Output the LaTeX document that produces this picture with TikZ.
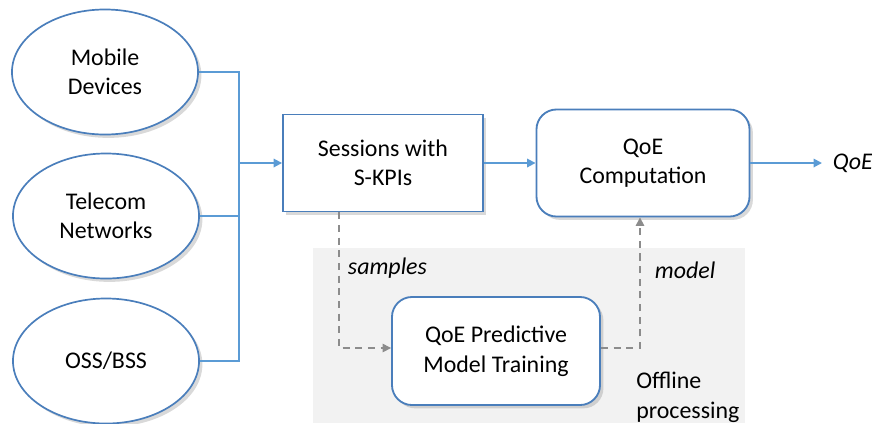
\documentclass[tikz,border=0pt]{standalone}
\usepackage{fontspec}
\setmainfont{Carlito}
\usetikzlibrary{shapes.geometric,arrows.meta,shadows}

\definecolor{edgeblue}{HTML}{4A7EBB}
\definecolor{linkblue}{HTML}{5B9BD5}
\definecolor{dashgray}{HTML}{8C8C8C}
\definecolor{panelgray}{HTML}{F2F2F2}

\tikzset{
  source/.style={ellipse, draw=edgeblue, line width=1.2pt, fill=white, minimum width=4.65cm, minimum height=3.125cm, align=center, drop shadow={opacity=0.3}},
  process/.style={rectangle, draw=edgeblue, line width=1.3pt, fill=white, align=center, drop shadow={opacity=0.3}},
  rounded/.style={process, rounded corners=0.5cm},
  flow/.style={linkblue, line width=1.3pt, -{Triangle[length=6pt,width=6pt]}},
  feed/.style={linkblue, line width=0.9pt},
  offline/.style={dashgray, line width=1pt, dashed, dash pattern=on 5pt off 4pt, -{Triangle[length=6pt,width=6pt]}}
}

\begin{document}
\begin{tikzpicture}[x=0.025cm, y=-0.025cm, font=\fontsize{17}{21}\selectfont]
\useasboundingbox (0, 0) rectangle (872, 423);

% offline area
\fill [panelgray] (313, 248) rectangle (745, 423);

% data sources
\node[source] (mobile) at (105, 72) {Mobile\\Devices};
\node[source] (telecom) at (106, 216) {Telecom\\Networks};
\node[source] (oss) at (106, 361) {OSS/BSS};

% main chain
\node[process, minimum width=5cm, minimum height=2.425cm] (sessions) at (383, 163) {Sessions with\\S-KPIs};
\node[rounded, minimum width=5.325cm, minimum height=2.675cm] (qoe) at (643, 163) {QoE\\Computation};
\node[rounded, minimum width=5.2cm, minimum height=2.7cm] (training) at (496, 351) {QoE Predictive\\Model Training};

\coordinate (bus) at (239, 163);
\coordinate (out) at (822, 163);

\draw [feed] (mobile.east) -| (bus) |- (oss.east);
\draw [feed] (telecom.east) -- (telecom.east -| bus);
\draw [flow] (bus) -- (sessions.west);
\draw [flow] (sessions) -- (qoe);
\draw [flow] (qoe) -- (out);
\node[anchor=west, font=\fontsize{17}{21}\selectfont\itshape] (qoelabel) at (828, 163) {QoE};

% offline training loop
\coordinate (down) at (339, 348);
\coordinate (up) at (640, 348);
\draw [offline] (sessions.south -| down) -- (down) -- (training.west |- down);
\draw [offline] (training.east |- up) -- (up) -- (qoe.south -| up);

\node[anchor=west, font=\fontsize{17}{21}\selectfont\itshape] (samples) at (343, 268) {samples};
\node[anchor=west, font=\fontsize{17}{21}\selectfont\itshape] (model) at (650, 270) {model};
\node[anchor=north west, align=left, inner sep=0pt] (label) at (636, 372) {Offline\\processing};
\end{tikzpicture}
\end{document}
